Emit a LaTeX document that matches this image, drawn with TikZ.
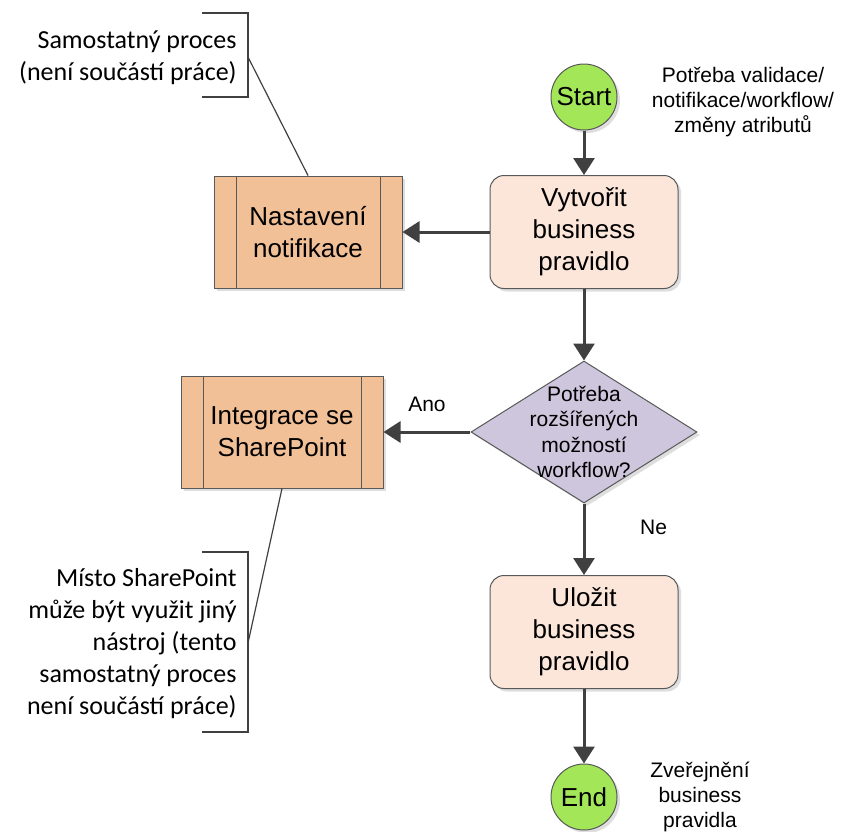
\documentclass[tikz,border=0pt]{standalone}
\usepackage{fontspec}
\setmainfont{Liberation Sans}
\newfontfamily\notefont{Carlito}
\usetikzlibrary{arrows.meta,shapes.geometric,shadows}

\definecolor{termgreen}{RGB}{163,231,88}
\definecolor{procfill}{RGB}{251,230,217}
\definecolor{subfill}{RGB}{242,192,151}
\definecolor{decfill}{RGB}{205,198,220}
\definecolor{edgegray}{RGB}{89,89,89}
\definecolor{flowgray}{RGB}{64,64,64}

\tikzset{
  shade/.style={drop shadow={shadow xshift=1.5pt,shadow yshift=-1.5pt,fill=black!13,opacity=1}},
  term/.style={circle,draw=edgegray,line width=0.5pt,fill=termgreen,minimum size=33pt,
    inner sep=0pt,font=\fontsize{13}{15}\selectfont,shade},
  proc/.style={rectangle,rounded corners=7pt,draw=edgegray,line width=0.5pt,fill=procfill,
    minimum width=94pt,minimum height=56.5pt,align=center,font=\fontsize{13}{16}\selectfont,shade},
  subproc/.style={rectangle,draw=edgegray,line width=0.5pt,fill=subfill,
    minimum height=56pt,align=center,font=\fontsize{13}{16}\selectfont,shade,
    path picture={\draw[edgegray,line width=0.5pt]
      ([xshift=11pt]path picture bounding box.north west) -- ([xshift=11pt]path picture bounding box.south west)
      ([xshift=-11pt]path picture bounding box.north east) -- ([xshift=-11pt]path picture bounding box.south east);}},
  decision/.style={diamond,draw=edgegray,line width=0.5pt,fill=decfill,
    minimum width=113pt,minimum height=71pt,inner sep=0pt,shade},
  dectext/.style={align=center,font=\fontsize{10.5}{12.75}\selectfont},
  smallnote/.style={align=center,font=\fontsize{10.5}{12.5}\selectfont},
  remark/.style={align=right,inner sep=0pt,font=\notefont\fontsize{13}{16}\selectfont},
  bracket/.style={draw=flowgray,line width=0.6pt},
  flow/.style={draw=flowgray,line width=1.5pt,-{Triangle[length=8.5pt,width=10.5pt]}},
  answer/.style={font=\fontsize{10.5}{12.5}\selectfont}
}

\begin{document}
\begin{tikzpicture}[x=0.5pt,y=-0.5pt]
  \useasboundingbox (0,0) rectangle (843,832);

  % main flow
  \node[term] (start) at (584,97) {Start};
  \node[proc] (create) at (584,232) {Vytvořit\\business\\pravidlo};
  \node[subproc,minimum width=94pt] (setnotif) at (308,232) {Nastavení\\notifikace};
  \node[decision,label={[dectext]center:Potřeba\\rozšířených\\možností\\workflow?}] (need) at (584,432) {};
  \node[subproc,minimum width=101pt] (integ) at (282,432) {Integrace se\\SharePoint};
  \node[proc] (save) at (584,632) {Uložit\\business\\pravidlo};
  \node[term] (finish) at (584,797) {End};

  % side texts
  \node[smallnote] (startnote) at (743,102) {Potřeba validace/\\notifikace/workflow/\\změny atributů};
  \node[smallnote] (endnote) at (700,797) {Zveřejnění\\business\\pravidla};

  \draw[flow] (start) -- (create);
  \draw[flow] (create) -- (setnotif);
  \draw[flow] (create) -- (need);
  \draw[flow] (need) -- node[answer,above=6pt]{Ano} (integ);
  \draw[flow] (need) -- node[answer,right=24pt,pos=0.33]{Ne} (save);
  \draw[flow] (save) -- (finish);

  % annotations
  \node[remark,anchor=east] (note1) at (237,58) {Samostatný proces\\(není součástí práce)};
  \draw[bracket] (202,13) -| (248,97) -- (202,97);
  \coordinate (tick1) at (248,57);
  \draw[bracket] (tick1) -- (setnotif.north);

  \node[remark,anchor=east] (note2) at (237,644) {Místo SharePoint\\může být využit jiný\\nástroj (tento\\samostatný proces\\není součástí práce)};
  \draw[bracket] (202,552) -| (248,732) -- (202,732);
  \coordinate (tick2) at (248,643);
  \draw[bracket] (tick2) -- (integ.south);
\end{tikzpicture}
\end{document}
